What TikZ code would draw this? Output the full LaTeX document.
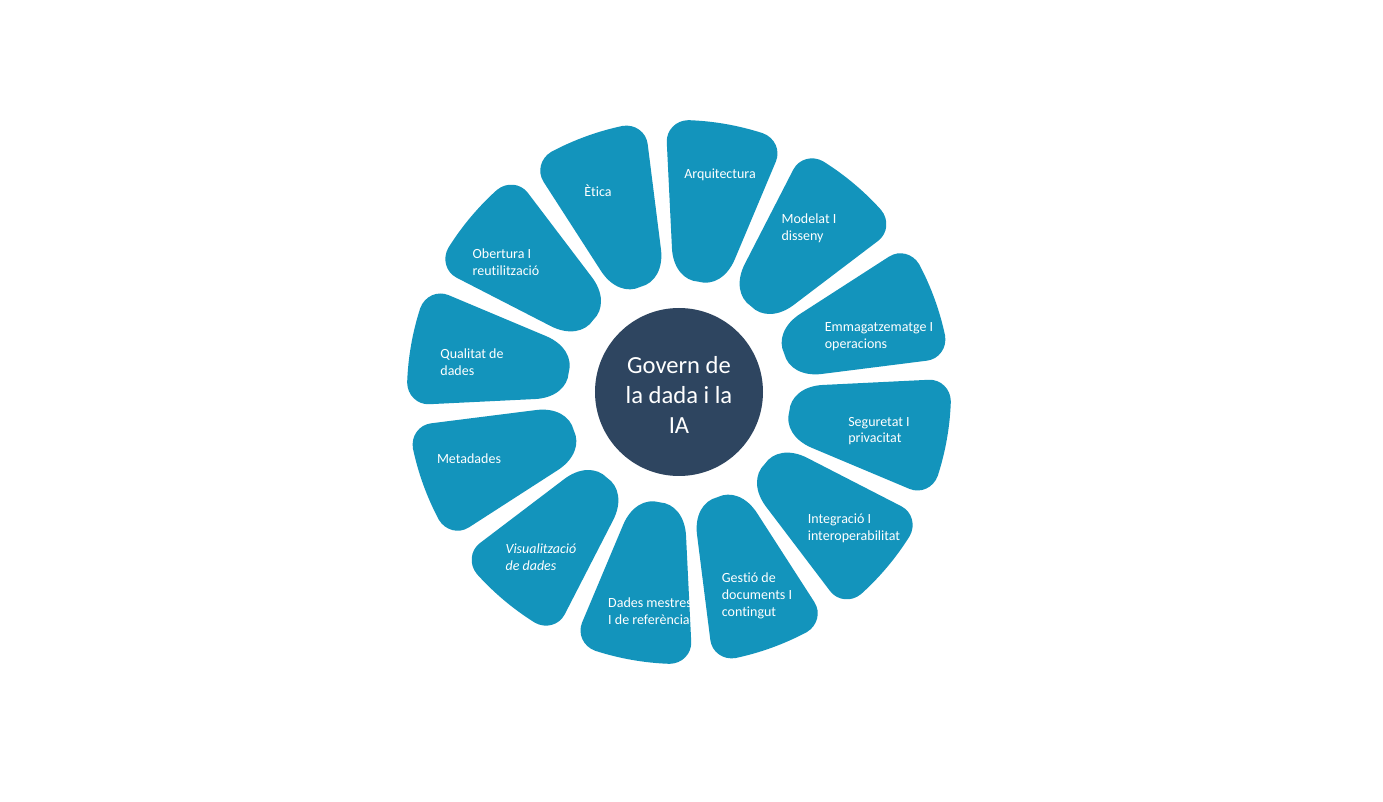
\documentclass[tikz,border=0pt]{standalone}
\usepackage{fontspec}
\setmainfont{Carlito}[Ligatures=NoCommon]
\usepackage{tikz}
\usetikzlibrary{positioning, calc}

\definecolor{petalblue}{RGB}{19,148,188}
\definecolor{hubnavy}{RGB}{46,69,96}

\tikzset{
  petal/.style={fill=petalblue},
  hub/.style={circle, fill=hubnavy, minimum size=168pt, inner sep=0pt},
  hubtext/.style={text=white, align=center, inner sep=0pt, font=\fontsize{24.6}{30}\selectfont},
  lbl/.style={text=white, align=left, inner sep=0pt, font=\fontsize{14}{16.8}\selectfont}
}

% one rounded wedge, centred on angle #1
\newcommand{\petalwedge}[1]{%
  \begin{scope}[rotate=#1]
    \fill[petal] (-8.0:272) arc[start angle=-8.0, end angle=8.0, radius=272pt]
      .. controls ($(8.0:272)!.55!(12.8:272)$) and ($(12.8:250)!.55!(12.8:272)$) .. (12.8:250)
      -- (12.8:144)
      .. controls ($(12.8:144)!.6!(12.8:112)$) and ($(0:112)!.6!(12.8:112)$) .. (0:112)
      .. controls ($(0:112)!.6!(-12.8:112)$) and ($(-12.8:144)!.6!(-12.8:112)$) .. (-12.8:144)
      -- (-12.8:250)
      .. controls ($(-12.8:250)!.55!(-12.8:272)$) and ($(-8.0:272)!.55!(-12.8:272)$) .. (-8.0:272)
      -- cycle;
  \end{scope}}

\begin{document}
\begin{tikzpicture}[x=1pt, y=1pt]
  \fill[white] (-679,-410) rectangle (704,392);
  \useasboundingbox (-679,-410) rectangle (704,392);

  \foreach \ang in {80,110,...,410}
    \petalwedge{\ang};

  \node[hub] (hub) at (0,0) {};
  \node[hubtext] (hubtxt) at (0,-3) {Govern de\\la dada i la\\IA};

  \node[lbl] (arq) at (41,217) {Arquitectura};
  \node[lbl] (eti) at (-81,201) {Ètica};
  \node[lbl] (mod) at (130,164) {Modelat I\\disseny};
  \node[lbl] (obe) at (-173,130) {Obertura I\\reutilització};
  \node[lbl] (emm) at (200,55) {Emmagatzematge I\\operacions};
  \node[lbl] (qua) at (-207,30) {Qualitat de\\dades};
  \node[lbl] (seg) at (200,-39) {Seguretat I\\privacitat};
  \node[lbl] (met) at (-210,-67) {Metadades};
  \node[lbl] (int) at (175,-136) {Integració I\\interoperabilitat};
  \node[lbl, font=\fontsize{14}{16.8}\selectfont\itshape] (vis) at (-138,-165) {Visualització\\de dades};
  \node[lbl] (ges) at (78,-204) {Gestió de\\documents I\\contingut};
  \node[lbl] (dad) at (-29,-219) {Dades mestres\\I de referència};
\end{tikzpicture}
\end{document}
